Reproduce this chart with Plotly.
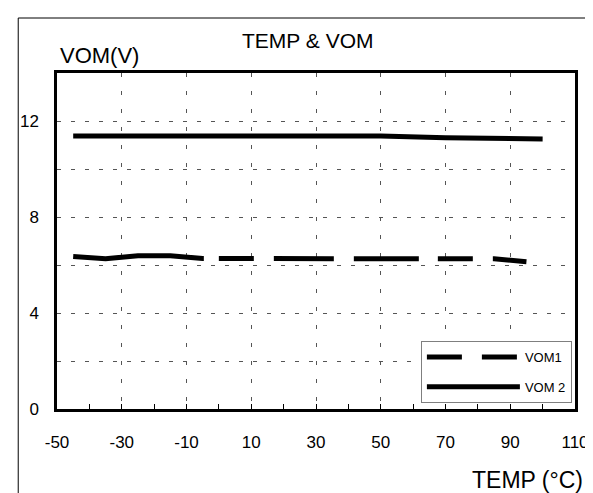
import plotly.graph_objects as go

# ---- data ----
temp_vom1 = [-45, -35, -25, -15, -5, 5, 25, 45, 65, 85, 95]
vom1 = [6.35, 6.26, 6.39, 6.39, 6.27, 6.27, 6.27, 6.27, 6.27, 6.26, 6.14]

temp_vom2 = [-45, -25, -5, 15, 35, 50, 70, 85, 100]
vom2 = [11.37, 11.37, 11.37, 11.37, 11.37, 11.37, 11.30, 11.26, 11.25]

x_ticks = [-50, -30, -10, 10, 30, 50, 70, 90, 110]
y_ticks = [0, 4, 8, 12]

FONT = "Liberation Sans, Arial, sans-serif"
W, H = 593, 493
L, R, T, B = 48, 24, 65, 92

fig = go.Figure()

# VOM1 (drawn line, dash pattern resembling the Excel rendering)
fig.add_trace(go.Scatter(
    x=temp_vom1, y=vom1, mode="lines", name="VOM1",
    line=dict(color="black", width=5,
              dash="131px,15px,35px,20px,60px,20px,65px,19px,35px,20px,45px,200px"),
    showlegend=False, legendgroup="g1", hoverinfo="skip"))
# legend entry for VOM1
fig.add_trace(go.Scatter(
    x=[None], y=[None], mode="lines", name="VOM1",
    line=dict(color="black", width=5, dash="35px,20px"),
    legendgroup="g1", showlegend=True))
fig.add_trace(go.Scatter(
    x=temp_vom2, y=vom2, mode="lines", name="VOM 2",
    line=dict(color="black", width=5),
    legendgroup="g2", showlegend=True))

def px_x(px):
    return (px - L) / (W - L - R)

def px_y(py):
    return (H - B - py) / (H - T - B)

fig.update_layout(
    width=W, height=H,
    margin=dict(l=L, r=R, t=T, b=B, pad=0),
    paper_bgcolor="white", plot_bgcolor="white",
    font=dict(family=FONT, color="black", size=17),
    showlegend=True,
    legend=dict(
        x=px_x(414), y=px_y(333), xanchor="left", yanchor="top",
        bgcolor="white", bordercolor="#7f7f7f", borderwidth=1,
        font=dict(family=FONT, size=13, color="black"),
        itemwidth=93, tracegroupgap=10, traceorder="grouped",
    ),
    xaxis=dict(
        range=[-50, 110], tickmode="array", tickvals=x_ticks,
        ticktext=[str(v) for v in x_ticks],
        showline=True, linecolor="black", linewidth=2.5, mirror=True,
        ticks="inside", ticklen=5, tickwidth=1, tickcolor="black",
        showgrid=True, gridcolor="#555555", gridwidth=1, griddash="4px,14px",
        minor=dict(dtick=10, tick0=-50, ticks="inside", ticklen=5,
                   tickcolor="black", tickwidth=1, showgrid=False),
        zeroline=False, ticklabelstandoff=16,
        tickfont=dict(size=17),
    ),
    yaxis=dict(
        range=[0, 14], tickmode="array", tickvals=y_ticks,
        ticktext=[str(v) for v in y_ticks],
        showline=True, linecolor="black", linewidth=2.5, mirror=True,
        ticks="",
        showgrid=True, gridcolor="#555555", gridwidth=1, griddash="4px,10px",
        minor=dict(dtick=2, tick0=0, showgrid=True, gridcolor="#555555",
                   gridwidth=1, griddash="4px,10px"),
        zeroline=False, ticklabelstandoff=12,
        tickfont=dict(size=17),
    ),
    annotations=[
        dict(text="TEMP &amp; VOM", xref="paper", yref="paper",
             x=px_x(300), y=px_y(33), xanchor="center", yanchor="middle",
             showarrow=False, font=dict(size=21)),
        dict(text="VOM(V)", xref="paper", yref="paper",
             x=px_x(49), y=px_y(48), xanchor="left", yanchor="middle",
             showarrow=False, font=dict(size=22)),
        dict(text="TEMP (°C)", xref="paper", yref="paper",
             x=px_x(579), y=px_y(472), xanchor="right", yanchor="middle",
             showarrow=False, font=dict(size=23)),
    ],
    shapes=[
        dict(type="rect", xref="paper", yref="paper",
             x0=px_x(9), y0=px_y(520), x1=px_x(620), y1=px_y(10),
             line=dict(color="black", width=1), fillcolor="rgba(0,0,0,0)",
             layer="below"),
    ],
)

fig.write_html("out.html")
